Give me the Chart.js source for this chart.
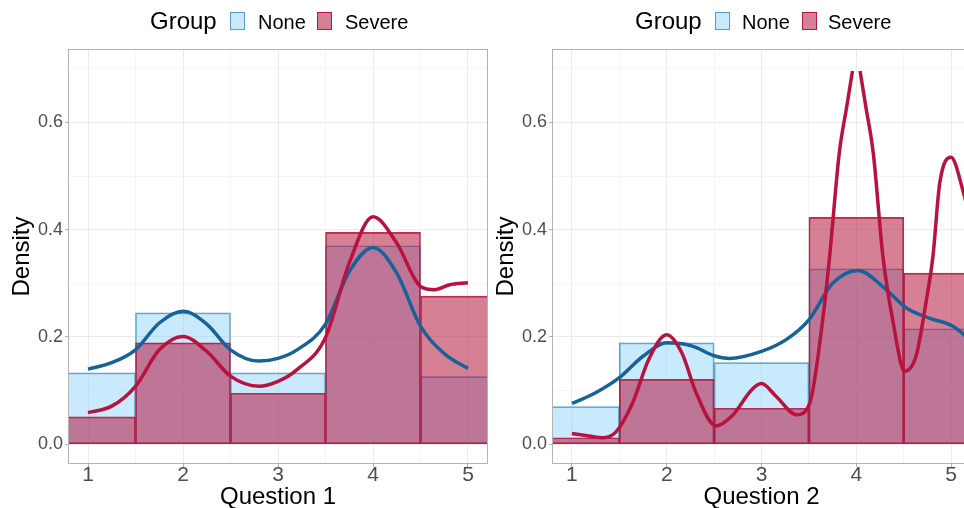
<!DOCTYPE html>
<html><head><meta charset="utf-8">
<script src="https://cdn.jsdelivr.net/npm/chart.js@4.4.1/dist/chart.umd.min.js"></script>
<style>
html,body{margin:0;padding:0;background:#fff;}
body{width:964px;height:508px;overflow:hidden;position:relative;font-family:"Liberation Sans",Arial,sans-serif;}
.panel{position:absolute;top:0;height:508px;}
#p1{left:0;width:490px;}
#p2{left:484px;width:492px;}
.lg{position:absolute;white-space:nowrap;line-height:1;color:#000;}
.ttl{font-size:24px;top:9px;}
.itm{font-size:20px;top:12px;}
.key{position:absolute;width:15px;height:18px;top:12px;box-sizing:border-box;border:1.5px solid;}
.kn{background:rgba(135,206,250,0.45);border-color:#5b9bc4;}
.ks{background:rgba(181,23,63,0.55);border-color:#b5173f;}
</style>
</head><body>
<div class="panel" id="p1"><canvas id="c1" width="490" height="508"></canvas></div>
<div class="panel" id="p2"><canvas id="c2" width="492" height="508"></canvas></div>

<span class="lg ttl" style="left:150px">Group</span>
<span class="key kn" style="left:230px"></span>
<span class="lg itm" style="left:258px">None</span>
<span class="key ks" style="left:317px"></span>
<span class="lg itm" style="left:345px">Severe</span>

<span class="lg ttl" style="left:635px">Group</span>
<span class="key kn" style="left:715px"></span>
<span class="lg itm" style="left:742px">None</span>
<span class="key ks" style="left:802px"></span>
<span class="lg itm" style="left:828px">Severe</span>

<script>
// ---- data ----
const binCenters = [1, 2, 3, 4, 5];
const groups = ['None', 'Severe'];

// histogram densities (bins width 1, centred on answers 1..5)
const q1None   = [0.133, 0.245, 0.133, 0.370, 0.126];
const q1Severe = [0.051, 0.189, 0.095, 0.395, 0.276];
const q2None   = [0.070, 0.189, 0.152, 0.327, 0.215];
const q2Severe = [0.012, 0.121, 0.067, 0.423, 0.319];

// kernel density curves
const q1NoneCurveX = [1.0, 1.25, 1.5, 1.75, 2.0, 2.25, 2.5, 2.8, 3.0, 3.2, 3.5, 3.75, 4.0, 4.25, 4.5, 4.75, 5.0];
const q1NoneCurveY = [0.140, 0.152, 0.176, 0.226, 0.248, 0.224, 0.176, 0.155, 0.160, 0.176, 0.224, 0.322, 0.367, 0.319, 0.220, 0.169, 0.141];
const q1SevereCurveX = [1.0, 1.25, 1.5, 1.75, 2.0, 2.25, 2.5, 2.8, 3.0, 3.2, 3.5, 3.75, 4.0, 4.25, 4.5, 4.65, 4.8, 5.0];
const q1SevereCurveY = [0.059, 0.071, 0.108, 0.176, 0.201, 0.173, 0.127, 0.108, 0.117, 0.139, 0.199, 0.338, 0.424, 0.375, 0.294, 0.288, 0.297, 0.301];

const q2NoneCurveX = [1.0, 1.25, 1.5, 1.75, 2.0, 2.27, 2.5, 2.66, 3.0, 3.26, 3.5, 3.75, 4.02, 4.28, 4.53, 4.77, 5.02, 5.2];
const q2NoneCurveY = [0.076, 0.096, 0.124, 0.164, 0.189, 0.183, 0.165, 0.160, 0.173, 0.195, 0.232, 0.300, 0.324, 0.294, 0.254, 0.235, 0.220, 0.195];
const q2SevereCurveX = [1.0, 1.18, 1.32, 1.46, 1.64, 1.81, 2.0, 2.16, 2.31, 2.52, 2.69, 2.9, 3.0, 3.15, 3.37, 3.51, 3.65, 3.72, 3.82, 3.9, 3.96, 4.0, 4.04, 4.1, 4.18, 4.28, 4.39, 4.51, 4.63, 4.74, 4.81, 4.88, 5.0, 5.13, 5.2];
const q2SevereCurveY = [0.020, 0.0155, 0.012, 0.022, 0.077, 0.158, 0.204, 0.170, 0.096, 0.034, 0.053, 0.102, 0.113, 0.090, 0.055, 0.077, 0.238, 0.352, 0.542, 0.630, 0.696, null, 0.696, 0.630, 0.542, 0.352, 0.226, 0.136, 0.164, 0.269, 0.352, 0.486, 0.535, 0.470, 0.420];

// axes ticks
const xMajorTicks = [1, 2, 3, 4, 5];
const xMinorTicks = [1.5, 2.5, 3.5, 4.5];
const yMajorTicks = [0, 0.2, 0.4, 0.6];
const yMinorTicks = [0.1, 0.3, 0.5, 0.7];
const xLimits = [0.8, 5.2];
const yLimits = [-0.035, 0.735];

// ---- styling ----
const FONT = '"Liberation Sans", Arial, sans-serif';
const BLUE_LINE = '#16639a';
const RED_LINE = '#b8123e';
const BLUE_FILL = 'rgba(135,206,250,0.45)';
const BLUE_EDGE = '#5b9bc4';
const RED_FILL = 'rgba(181,23,63,0.55)';
const RED_EDGE = 'rgba(181,23,63,0.9)';
const GRID_MAJOR = '#ebebeb';
const GRID_MINOR = '#f5f5f5';
const FRAME = '#b3b3b3';

const framePlugin = {
  id: 'frame',
  afterDatasetsDraw(chart) {
    const a = chart.chartArea, ctx = chart.ctx;
    ctx.save();
    ctx.strokeStyle = FRAME;
    ctx.lineWidth = 1;
    ctx.strokeRect(Math.round(a.left) - 0.5, Math.round(a.top) - 0.5, Math.round(a.right - a.left) + 1, Math.round(a.bottom - a.top) + 1);
    ctx.restore();
  }
};

function pts(xs, ys) { return xs.map((x, i) => ({ x: x, y: ys[i] })); }

function makeChart(id, xTitle, noneBars, sevBars, nCX, nCY, sCX, sCY, rightPad) {
  return new Chart(document.getElementById(id), {
    type: 'bar',
    data: {
      datasets: [
        { type: 'line', label: groups[1] + ' density', data: pts(sCX, sCY), borderColor: RED_LINE, borderWidth: 3.5,
          pointRadius: 0, cubicInterpolationMode: 'monotone', spanGaps: false, order: 0, xAxisID: 'x', yAxisID: 'y', clip: 0 },
        { type: 'line', label: groups[0] + ' density', data: pts(nCX, nCY), borderColor: BLUE_LINE, borderWidth: 3.5,
          pointRadius: 0, cubicInterpolationMode: 'monotone', order: 1, xAxisID: 'x', yAxisID: 'y', clip: 0 },
        { label: groups[1], data: pts(binCenters, sevBars), backgroundColor: RED_FILL, borderColor: RED_EDGE, borderWidth: 1,
          borderSkipped: false, grouped: false, barPercentage: 1, categoryPercentage: 1, order: 2, xAxisID: 'x', yAxisID: 'y', clip: 0 },
        { label: groups[0], data: pts(binCenters, noneBars), backgroundColor: BLUE_FILL, borderColor: BLUE_EDGE, borderWidth: 1,
          borderSkipped: false, grouped: false, barPercentage: 1, categoryPercentage: 1, order: 3, xAxisID: 'x', yAxisID: 'y', clip: 0 }
      ]
    },
    options: {
      responsive: false, animation: false, events: [],
      layout: { padding: { top: 50, right: rightPad, left: 0, bottom: 0 } },
      plugins: { legend: { display: false }, tooltip: { enabled: false } },
      scales: {
        x: {
          type: 'linear', position: 'bottom', min: xLimits[0], max: xLimits[1], offset: false,
          afterBuildTicks: s => { s.ticks = xMajorTicks.map(v => ({ value: v })); },
          afterFit: s => { s.height = 45; },
          grid: { offset: false, color: GRID_MAJOR, lineWidth: 1, tickLength: 4, tickColor: FRAME },
          border: { display: false },
          ticks: { font: { size: 21, family: FONT }, color: '#4d4d4d', padding: -4, maxRotation: 0, autoSkip: false,
                   callback: v => String(v) },
          title: { display: true, text: xTitle, font: { size: 24, family: FONT }, color: '#000', padding: { top: 0, bottom: -4 } }
        },
        xm: {
          type: 'linear', position: 'bottom', min: xLimits[0], max: xLimits[1], offset: false,
          afterBuildTicks: s => { s.ticks = xMinorTicks.map(v => ({ value: v })); },
          afterFit: s => { s.height = 0; },
          grid: { offset: false, color: GRID_MINOR, lineWidth: 1, drawTicks: false },
          border: { display: false },
          ticks: { display: false }
        },
        y: {
          type: 'linear', position: 'left', min: yLimits[0], max: yLimits[1],
          afterBuildTicks: s => { s.ticks = yMajorTicks.map(v => ({ value: v })); },
          afterFit: s => { s.width = 69; },
          grid: { color: GRID_MAJOR, lineWidth: 1, tickLength: 4, tickColor: FRAME },
          border: { display: false },
          ticks: { font: { size: 18, family: FONT }, color: '#4d4d4d', padding: 2, callback: v => Number(v).toFixed(1) },
          title: { display: true, text: 'Density', font: { size: 24, family: FONT }, color: '#000', padding: { top: 8, bottom: 0 } }
        },
        ym: {
          type: 'linear', position: 'left', min: yLimits[0], max: yLimits[1],
          afterBuildTicks: s => { s.ticks = yMinorTicks.map(v => ({ value: v })); },
          afterFit: s => { s.width = 0; },
          grid: { color: GRID_MINOR, lineWidth: 1, drawTicks: false },
          border: { display: false },
          ticks: { display: false }
        }
      }
    },
    plugins: [framePlugin]
  });
}

makeChart('c1', 'Question 1', q1None, q1Severe, q1NoneCurveX, q1NoneCurveY, q1SevereCurveX, q1SevereCurveY, 3);
makeChart('c2', 'Question 2', q2None, q2Severe, q2NoneCurveX, q2NoneCurveY, q2SevereCurveX, q2SevereCurveY, 6);
</script>
</body></html>
